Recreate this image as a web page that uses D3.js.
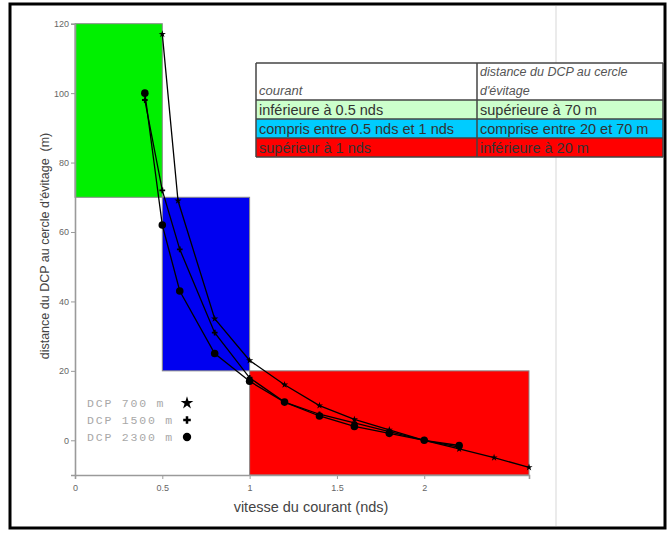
<!DOCTYPE html>
<html>
<head>
<meta charset="utf-8">
<script src="https://cdn.jsdelivr.net/npm/d3@7"></script>
<style>
  body { margin: 0; background: #fff; }
  text { font-family: "Liberation Sans", Arial, sans-serif; }
</style>
</head>
<body>
<div id="chart"></div>
<script>
// data
var speeds700  = [0.5, 0.59, 0.8, 1.0, 1.2, 1.4, 1.6, 1.8, 2.0, 2.2, 2.4, 2.6];
var dist700    = [117, 69, 35, 23, 16, 10, 6, 3, 0, -2.5, -5, -7.8];
var speeds1500 = [0.4, 0.5, 0.6, 0.8, 1.0, 1.2, 1.4, 1.6, 1.8, 2.0, 2.2];
var dist1500   = [98, 72, 55, 31, 18, 11, 7.5, 5, 2.5, 0, -2];
var speeds2300 = [0.4, 0.5, 0.6, 0.8, 1.0, 1.2, 1.4, 1.6, 1.8, 2.0, 2.2];
var dist2300   = [100, 62, 43, 25, 17, 11, 7, 4, 2, 0, -1.5];

var seriesNames = ["DCP 700 m", "DCP 1500 m", "DCP 2300 m"];

// zones (courant / distance)
var zoneSpeed = [[0, 0.5], [0.5, 1], [1, 2.6]];
var zoneDist  = [[70, 120], [20, 70], [-10, 20]];
var zoneColors = ["#00f000", "#0000f0", "#ff0000"];

// table
var tableHead = [["courant"], ["distance du DCP au cercle", "d'évitage"]];
var tableRows = [
  ["inférieure à 0.5 nds", "supérieure à 70 m"],
  ["compris entre 0.5 nds et 1 nds", "comprise entre 20 et 70 m"],
  ["supérieur à 1 nds", "inférieure à 20 m"]
];
var rowColors = ["#ccffcc", "#00ccff", "#ff0000"];

var xTicks = [0, 0.5, 1, 1.5, 2];
var yTicks = [0, 20, 40, 60, 80, 100, 120];

var W = 668, H = 533;
var svg = d3.select("#chart")
  .append("svg")
    .attr("width", W)
    .attr("height", H);

// outer frame + faint line
svg.append("rect")
  .attr("x", 10).attr("y", 4)
  .attr("width", 655).attr("height", 524)
  .attr("fill", "none").attr("stroke", "#000").attr("stroke-width", 3);
svg.append("line")
  .attr("x1", 556).attr("x2", 556).attr("y1", 6).attr("y2", 526)
  .attr("stroke", "#e4e4e4").attr("stroke-width", 1.5);

// scales
var x = d3.scaleLinear().domain([0, 2.6]).range([75, 529]);
var y = d3.scaleLinear().domain([-10, 120]).range([475, 23.7]);

// zones
svg.append("g").selectAll("rect")
  .data(zoneSpeed)
  .enter()
  .append("rect")
    .attr("x", function(d) { return x(d[0]); })
    .attr("width", function(d) { return x(d[1]) - x(d[0]); })
    .attr("y", function(d, i) { return y(zoneDist[i][1]); })
    .attr("height", function(d, i) { return y(zoneDist[i][0]) - y(zoneDist[i][1]); })
    .attr("fill", function(d, i) { return zoneColors[i]; })
    .attr("stroke", "#8a8a8a")
    .attr("stroke-width", 1);

// axes
var yAxis = svg.append("g")
  .attr("transform", "translate(75,0)")
  .call(d3.axisLeft(y).tickValues(yTicks).tickSize(4).tickPadding(2));
var xAxis = svg.append("g")
  .attr("transform", "translate(0,475)")
  .call(d3.axisBottom(x).tickValues(xTicks).tickSize(4).tickPadding(6)
        .tickFormat(function(d) { return d; }));
[xAxis, yAxis].forEach(function(a) {
  a.select(".domain").attr("stroke", "#9a9a9a").attr("stroke-width", 1.6);
  a.selectAll(".tick line").attr("stroke", "#9a9a9a");
  a.selectAll(".tick text")
    .attr("fill", "#666")
    .style("font-size", "9px")
    .style("font-family", "Liberation Sans, Arial, sans-serif");
});

// axis labels
svg.append("text")
  .attr("x", 311).attr("y", 512)
  .attr("text-anchor", "middle")
  .attr("fill", "#444")
  .style("font-size", "14.5px")
  .text("vitesse du courant (nds)");
svg.append("text")
  .attr("transform", "translate(49,246) rotate(-90)")
  .attr("text-anchor", "middle")
  .attr("fill", "#444")
  .style("font-size", "12.5px")
  .style("white-space", "pre")
  .text("distance du DCP au cercle d'évitage  (m)");

// series
var series = [
  { xs: speeds700,  ys: dist700,  sym: d3.symbolStar,  size: 16, legSize: 50 },
  { xs: speeds1500, ys: dist1500, sym: d3.symbolCross, size: 18, legSize: 32 },
  { xs: speeds2300, ys: dist2300, sym: d3.symbolCircle, size: 45, legSize: 55 }
];

var line = d3.line()
  .x(function(d) { return x(d[0]); })
  .y(function(d) { return y(d[1]); });

series.forEach(function(s) {
  var pts = s.xs.map(function(v, i) { return [v, s.ys[i]]; });
  svg.append("path")
    .datum(pts)
    .attr("d", line)
    .attr("fill", "none")
    .attr("stroke", "#000")
    .attr("stroke-width", 1.3);
  svg.append("g").selectAll("path")
    .data(pts)
    .enter()
    .append("path")
      .attr("transform", function(d) { return "translate(" + x(d[0]) + "," + y(d[1]) + ")"; })
      .attr("d", d3.symbol().type(s.sym).size(s.size))
      .attr("fill", "#000");
});

// legend
var legend = svg.append("g");
seriesNames.forEach(function(name, i) {
  legend.append("text")
    .attr("x", 87).attr("y", 407 + i * 17)
    .attr("fill", "#a8a8a8")
    .style("font-family", "Liberation Mono, monospace")
    .style("font-size", "11.5px")
    .style("letter-spacing", "1.8px")
    .text(name);
  legend.append("path")
    .attr("transform", "translate(187," + (403 + i * 17) + ")")
    .attr("d", d3.symbol().type(series[i].sym).size(series[i].legSize))
    .attr("fill", "#000");
});

// table
var tx = 256, tw = 407, split = 477;
var headH = 37, rowH = 19, ty = 63;
var table = svg.append("g");
table.append("rect")
  .attr("x", tx).attr("y", ty).attr("width", tw).attr("height", headH)
  .attr("fill", "#fff");
tableRows.forEach(function(r, i) {
  var ry = ty + headH + i * rowH;
  table.append("rect")
    .attr("x", tx).attr("y", ry).attr("width", tw).attr("height", rowH)
    .attr("fill", rowColors[i]);
  table.append("text")
    .attr("x", tx + 3).attr("y", ry + 14.5)
    .attr("fill", "#333").style("font-size", "14.5px")
    .text(r[0]);
  table.append("text")
    .attr("x", split + 3).attr("y", ry + 14.5)
    .attr("fill", "#333").style("font-size", "14.5px")
    .text(r[1]);
});
// header texts
table.append("text")
  .attr("x", tx + 3).attr("y", ty + 32)
  .attr("fill", "#555").style("font-size", "13px").style("font-style", "italic")
  .text(tableHead[0][0]);
tableHead[1].forEach(function(t, j) {
  table.append("text")
    .attr("x", split + 3).attr("y", ty + 13 + j * 19)
    .attr("fill", "#555").style("font-size", "12.5px").style("font-style", "italic")
    .text(t);
});
// grid lines
var hLines = [ty, ty + headH, ty + headH + rowH, ty + headH + 2 * rowH, ty + headH + 3 * rowH];
hLines.forEach(function(hy) {
  table.append("line")
    .attr("x1", tx).attr("x2", tx + tw).attr("y1", hy).attr("y2", hy)
    .attr("stroke", "#444").attr("stroke-width", 1.5);
});
[tx, split, tx + tw].forEach(function(vx) {
  table.append("line")
    .attr("x1", vx).attr("x2", vx).attr("y1", ty).attr("y2", ty + headH + 3 * rowH)
    .attr("stroke", "#444").attr("stroke-width", 1.5);
});
</script>
</body>
</html>
